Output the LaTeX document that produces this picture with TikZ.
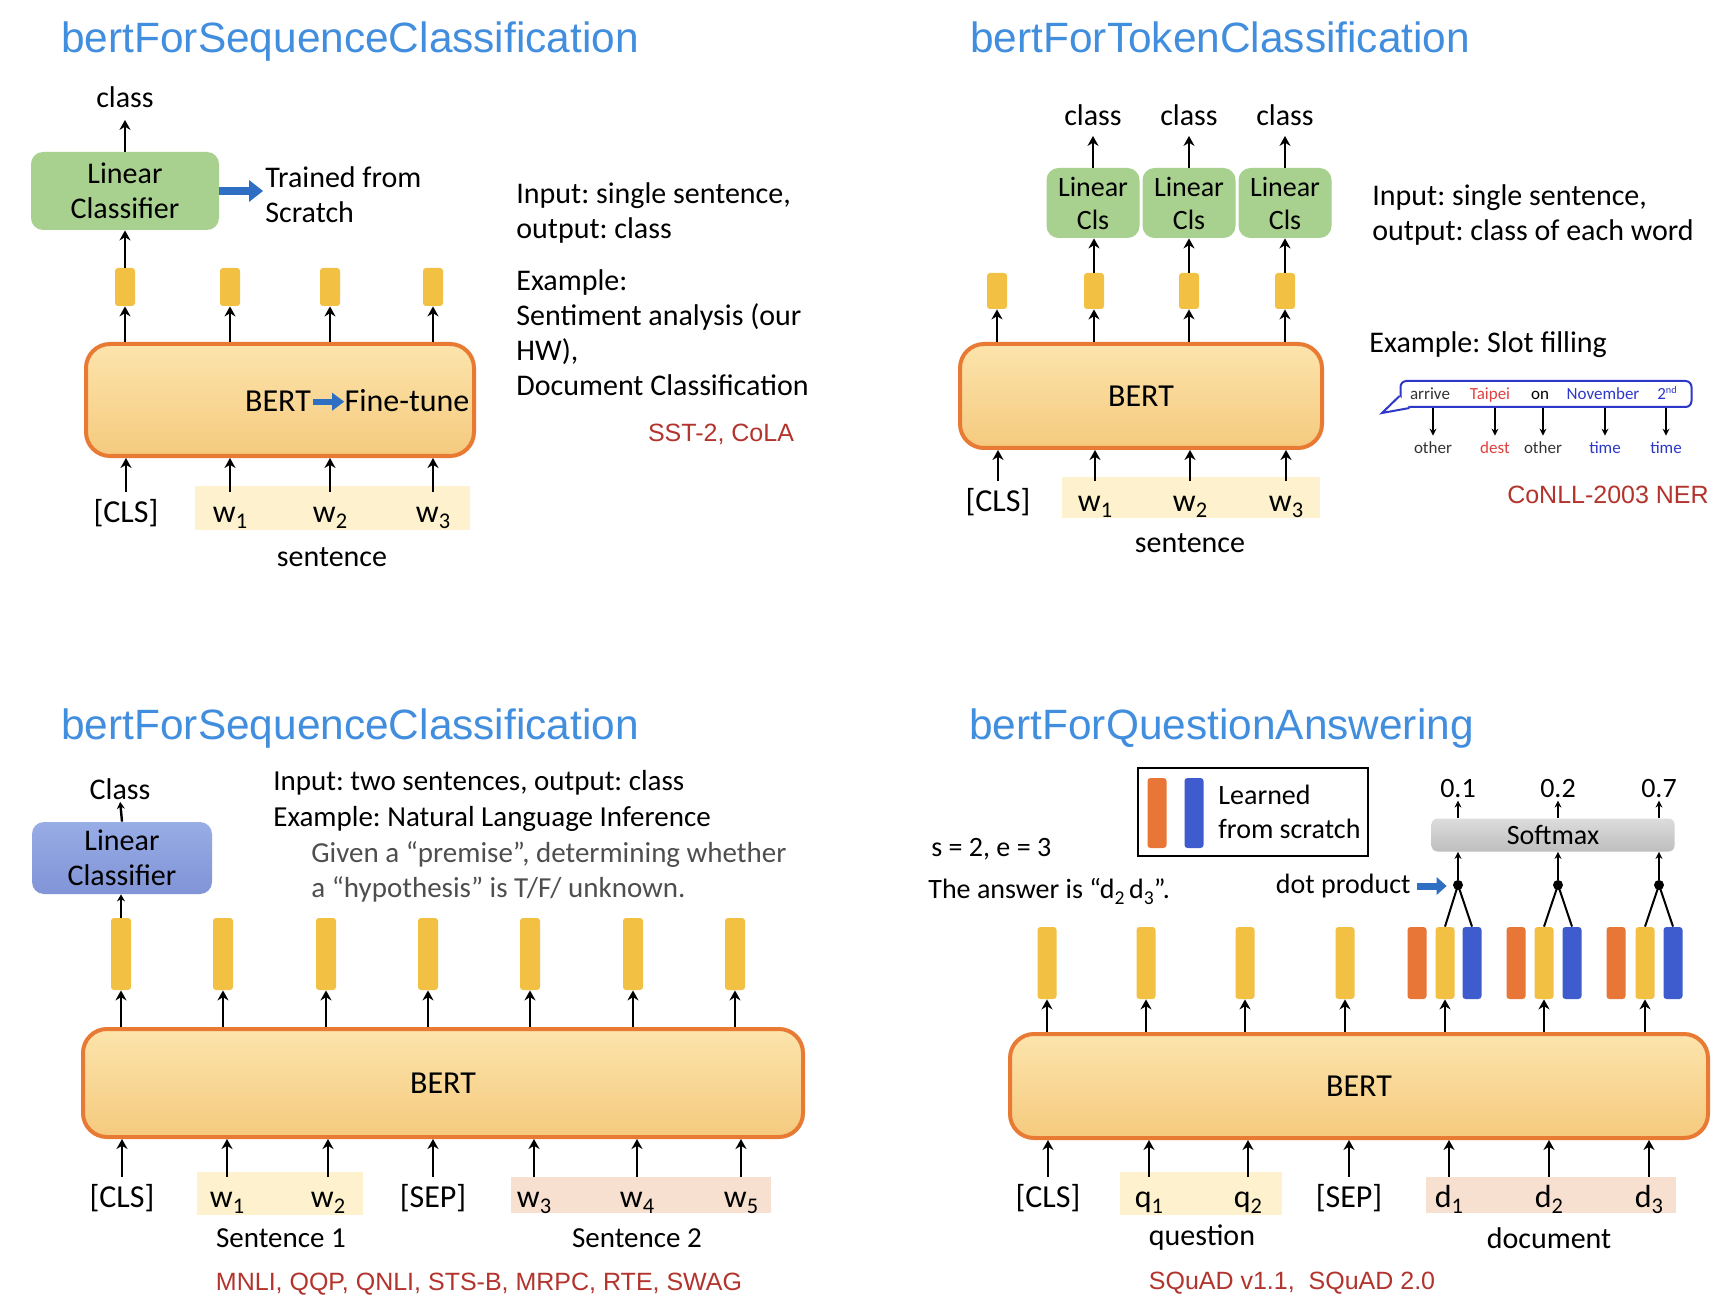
\documentclass[tikz,border=0pt]{standalone}
\usepackage{fontspec}
\usepackage{graphicx}
\setmainfont{Carlito}
\newfontfamily\arialfont{Liberation Sans}
\usetikzlibrary{arrows.meta,positioning,calc}
\frenchspacing

\definecolor{titleblue}{RGB}{66,142,222}
\definecolor{dsred}{RGB}{178,52,45}
\definecolor{vecyellow}{RGB}{242,192,66}
\definecolor{vecorange}{RGB}{232,118,55}
\definecolor{vecblue}{RGB}{62,92,205}
\definecolor{berttop}{RGB}{252,228,172}
\definecolor{bertbot}{RGB}{245,202,126}
\definecolor{bertedge}{RGB}{232,122,52}
\definecolor{clsgreen}{RGB}{168,208,142}
\definecolor{clsbluelt}{RGB}{152,172,230}
\definecolor{clsblue}{RGB}{128,148,215}
\definecolor{hlyellow}{RGB}{253,242,205}
\definecolor{hlpink}{RGB}{247,224,208}
\definecolor{arrowblue}{RGB}{46,110,195}
\definecolor{slotblue}{RGB}{45,55,200}
\definecolor{slotred}{RGB}{225,65,65}
\definecolor{greytext}{RGB}{78,78,78}
\definecolor{softtop}{RGB}{220,220,220}
\definecolor{softbot}{RGB}{190,190,190}

\newcommand\sbs[1]{\raisebox{-0.45ex}{\scalebox{0.7}{#1}}}
\newcommand\sps[1]{\raisebox{0.75ex}{\scalebox{0.6}{#1}}}

\tikzset{
  ttl/.style={anchor=base west, inner sep=0pt, text=titleblue, font=\arialfont\fontsize{21.2}{25}\selectfont},
  txt/.style={anchor=west, inner sep=0pt, align=left, font=\fontsize{15}{17.5}\selectfont},
  lab/.style={inner sep=0pt, font=\fontsize{15}{17.5}\selectfont},
  tok/.style={anchor=base, inner sep=0pt, text height=15pt, text depth=3pt, font=\fontsize{16}{19}\selectfont},
  ds/.style={inner sep=0pt, text=dsred, font=\arialfont\fontsize{12.5}{15}\selectfont},
  vec/.style={rectangle, rounded corners=1.5pt, inner sep=0pt, minimum width=10pt, fill=vecyellow},
  bertbox/.style={rectangle, rounded corners=12pt, draw=bertedge, line width=2pt,
    top color=berttop, bottom color=bertbot, inner sep=0pt, font=\fontsize{16}{19}\selectfont},
  linbox/.style={rectangle, rounded corners=6pt, inner sep=0pt, align=center, font=\fontsize{15}{17.5}\selectfont},
  up/.style={-{Stealth[length=5pt,width=5.5pt]}, line width=1.2pt},
  thinup/.style={-{Stealth[length=3.5pt,width=3.5pt]}, line width=0.75pt},
  fat/.style={draw=arrowblue, line width=4pt, -{Triangle[length=7pt,width=11pt,line width=0pt]}},
}

\begin{document}
\begin{tikzpicture}[x=0.5pt, y=-0.5pt]
    \fill[white] (0,0) rectangle (1731,1305);
    \useasboundingbox (0,0) rectangle (1731,1305);

    % sequence classification, single sentence
    \begin{scope}
        \node[ttl] (ttlA) at (61,53) {bertForSequenceClassification};
        \node[linbox, fill=clsgreen, minimum width=94pt, minimum height=39pt] (linA) at (125,191) {Linear\\Classifier};
        \node[lab] (clsA) at (125,97) {class};
        \draw[up, shorten >=6pt] (linA.north) -- (clsA.south);
        \node[txt] (trainA) at (265,195) {Trained from\\Scratch};
        \draw[fat, shorten >=1pt] (linA.east) -- (linA.east -| trainA.west);
        \foreach \x [count=\i] in {125,230,330,433}
            \node[vec, minimum height=19pt] (vA\i) at (\x,287) {};
        \draw[up] (vA1.north) -- (linA.south);
        \node[bertbox, minimum width=194pt, minimum height=56pt] (bertA) at (280,400) {};
        \foreach \i in {1,...,4}
            \draw[up] (vA\i |- bertA.north) -- (vA\i.south);
        \node[font=\fontsize{16}{19}\selectfont, inner sep=0pt, anchor=base] (bertTxtA) at (278,412) {BERT};
        \node[font=\fontsize{16}{19}\selectfont, inner sep=0pt, anchor=base] (tuneA) at (407,412) {Fine-tune};
        \draw[fat, line width=3pt, -{Triangle[length=6pt,width=9pt,line width=0pt]}, shorten <=1pt]
            (bertTxtA.east) -- (bertTxtA.east -| tuneA.west);
        % input tokens
        \fill[hlyellow] (195,486) rectangle (470,530);
        \node[tok] (tA0) at (126,522) {[CLS]};
        \foreach \x [count=\i] in {230,330,433}
            \node[tok] (tA\i) at (\x,522) {w\sbs{\i}};
        \foreach \i in {0,...,3}
            \draw[up] (tA\i.north) -- (tA\i.north |- bertA.south);
        \node[lab] (sentA) at (332,557) {sentence};
        % description
        \node[txt] (inA) at (516,213) {Input: single sentence,\\output: class};
        \node[txt] (exA) at (516,333) {Example:\\Sentiment analysis (our\\HW),\\Document Classification};
        \node[ds] (dsA) at (721,434) {SST-2, CoLA};
    \end{scope}

    % token classification
    \begin{scope}
        \node[ttl] (ttlB) at (970,53) {bertForTokenClassification};
        \foreach \x [count=\i] in {1093,1189,1285} {
            \node[linbox, fill=clsgreen, minimum width=46.5pt, minimum height=35pt,
                font=\fontsize{14}{16.5}\selectfont] (linB\i) at (\x,203) {Linear\\Cls};
            \node[lab] (clsB\i) at (\x,115) {class};
            \draw[up, shorten >=5pt] (linB\i.north) -- (clsB\i.south);
        }
        \foreach \x [count=\i] in {997,1094,1189,1285}
            \node[vec, minimum height=18pt] (vB\i) at (\x,291) {};
        \foreach \i/\j in {1/2,2/3,3/4}
            \draw[up] (vB\j.north) -- (vB\j.north |- linB\i.south);
        \node[bertbox, minimum width=181pt, minimum height=52pt] (bertB) at (1141,396) {BERT};
        \foreach \i in {1,...,4}
            \draw[up] (vB\i |- bertB.north) -- (vB\i.south);
        % input tokens
        \fill[hlyellow] (1062,477) rectangle (1320,518);
        \node[tok] (tB0) at (998,511) {[CLS]};
        \foreach \x [count=\i] in {1095,1190,1286}
            \node[tok] (tB\i) at (\x,511) {w\sbs{\i}};
        \foreach \i in {0,...,3}
            \draw[up] (tB\i.north) -- (tB\i.north |- bertB.south);
        \node[lab] (sentB) at (1190,543) {sentence};
        % description
        \node[txt] (inB) at (1372,215) {Input: single sentence,\\output: class of each word};
        \node[txt] (exB) at (1369,345) {Example: Slot filling};
        % slot filling bubble
        \node[draw=slotblue, line width=1pt, rounded corners=3pt, fill=white, inner sep=0pt,
            minimum width=145.5pt, minimum height=13pt] (bubble) at (1546,394) {};
        \draw[slotblue, line width=1pt, fill=white]
            ($(bubble.south west)+(0,-12)$) -- (1382,413) -- ($(bubble.south west)+(10,0)$);
        \foreach \x/\w/\c [count=\i] in {1430/arrive/black!80,1490/Taipei/slotred,1540/on/black,1603/November/slotblue,1667/2\sps{nd}/slotblue}
            \node[inner sep=0pt, anchor=base, text=\c, font=\fontsize{8.5}{10}\selectfont] (sw\i) at (\x,400) {\w};
        \foreach \x/\w/\c [count=\i] in {1433/other/black!80,1495/dest/slotred,1543/other/black!80,1605/time/slotblue,1666/time/slotblue}
            \node[inner sep=0pt, text=\c, font=\fontsize{8.5}{10}\selectfont] (sl\i) at (\x,448) {\w};
        \foreach \i in {1,...,5}
            \draw[thinup, shorten >=3pt] (sl\i.north |- bubble.south) -- (sl\i.north);
        \node[ds] (dsB) at (1608,495) {CoNLL-2003 NER};
    \end{scope}

    % sequence classification, two sentences
    \begin{scope}
        \node[ttl] (ttlC) at (61,739) {bertForSequenceClassification};
        \node[lab] (clsC) at (120,789) {Class};
        \node[linbox, top color=clsbluelt, bottom color=clsblue, minimum width=90pt, minimum height=36pt] (linC) at (122,858) {Linear\\Classifier};
        \draw[up, -{Stealth[length=3.5pt,width=4pt]}, shorten >=1pt] (linC.north) -- (clsC.south);
        \foreach \x [count=\i] in {121,223,326,428,530,633,735}
            \node[vec, minimum height=36pt] (vC\i) at (\x,954) {};
        \draw[up, -{Stealth[length=3.5pt,width=4pt]}] (vC1.north) -- (vC1.north |- linC.south);
        \node[bertbox, minimum width=360pt, minimum height=54pt] (bertC) at (443,1083) {BERT};
        \foreach \i in {1,...,7}
            \draw[up] (vC\i |- bertC.north) -- (vC\i.south);
        % input tokens
        \fill[hlyellow] (197,1172) rectangle (363,1215);
        \fill[hlpink] (511,1177) rectangle (771,1213);
        \node[tok] (tC1) at (122,1207) {[CLS]};
        \node[tok] (tC2) at (227,1207) {w\sbs{1}};
        \node[tok] (tC3) at (328,1207) {w\sbs{2}};
        \node[tok] (tC4) at (433,1207) {[SEP]};
        \node[tok] (tC5) at (534,1207) {w\sbs{3}};
        \node[tok] (tC6) at (637,1207) {w\sbs{4}};
        \node[tok] (tC7) at (741,1207) {w\sbs{5}};
        \foreach \i in {1,...,7}
            \draw[up] (tC\i.north) -- (tC\i.north |- bertC.south);
        \node[lab, font=\fontsize{14.5}{17.5}\selectfont] (sent1C) at (281,1238) {Sentence 1};
        \node[lab, font=\fontsize{14.5}{17.5}\selectfont] (sent2C) at (637,1238) {Sentence 2};
        \node[ds] (dsC) at (479,1284) {MNLI, QQP, QNLI, STS-B, MRPC, RTE, SWAG};
        % description
        \node[txt, font=\fontsize{14.5}{17.6}\selectfont] (inC) at (273,801) {Input: two sentences, output: class\\Example: Natural Language Inference};
        \node[txt, text=greytext, font=\fontsize{14.5}{17.8}\selectfont] (givC) at (311,872) {Given a “premise”, determining whether\\a “hypothesis” is T/F/ unknown.};
    \end{scope}

    % question answering
    \begin{scope}
        \node[ttl] (ttlD) at (969,739) {bertForQuestionAnswering};
        % legend
        \node[draw, line width=1.2pt, inner sep=0pt, minimum width=115pt, minimum height=44pt] (legend) at (1253,812) {};
        \node[vec, fill=vecorange, minimum width=9.5pt, minimum height=35pt] (legO) at (1157,813) {};
        \node[vec, fill=vecblue, minimum width=9.5pt, minimum height=35pt] (legB) at (1194,813) {};
        \node[txt, font=\fontsize{14}{17}\selectfont] (legT) at (1218,812) {Learned\\from scratch};
        \node[txt, font=\fontsize{14}{17}\selectfont] (seD) at (931,849) {s = 2, e = 3};
        \node[txt, font=\fontsize{14}{17}\selectfont] (ansD) at (928,891) {The answer is “d\sbs{2}\,d\sbs{3}”.};
        % softmax and dot products
        \node[rectangle, rounded corners=3pt, top color=softtop, bottom color=softbot, inner sep=0pt,
            minimum width=121.5pt, minimum height=16.5pt, font=\fontsize{14}{17}\selectfont] (soft) at (1553,835) {Softmax};
        \foreach \x/\p [count=\i] in {1458/0.1,1558/0.2,1659/0.7}
            \node[lab, font=\fontsize{14}{17}\selectfont] (pD\i) at (\x,789) {\p};
        \foreach \i in {1,2,3}
            \draw[thinup, shorten >=1pt] (pD\i.south |- soft.north) -- (pD\i.south);
        \foreach \x [count=\i] in {1458,1558,1659}
            \node[circle, fill=black, inner sep=0pt, minimum size=5pt] (dot\i) at (\x,885) {};
        \foreach \i in {1,2,3}
            \draw[thinup] (dot\i) -- (dot\i |- soft.south);
        \node[lab, font=\fontsize{14}{17}\selectfont, anchor=east] (dp) at (1411,886) {dot product};
        \draw[fat, line width=3.5pt, -{Triangle[length=5pt,width=9pt,line width=0pt]}, shorten <=3pt, shorten >=3pt]
            (dp.east) -- (dp.east -| dot1.west);
        % output vectors
        \foreach \x [count=\i] in {1047,1146,1245,1345,1445,1544,1645}
            \node[vec, minimum width=9.5pt, minimum height=36pt] (vD\i) at (\x,963) {};
        \foreach \x [count=\i] in {1417,1516,1616}
            \node[vec, fill=vecorange, minimum width=9.5pt, minimum height=36pt] (oD\i) at (\x,963) {};
        \foreach \x [count=\i] in {1472,1572,1673}
            \node[vec, fill=vecblue, minimum width=9.5pt, minimum height=36pt] (bD\i) at (\x,963) {};
        \foreach \i [evaluate=\i as \j using int(\i+4)] in {1,2,3}
            \draw[line width=1pt] (vD\j.north) -- (dot\i.center) -- (bD\i.north);
        \node[bertbox, minimum width=349pt, minimum height=52pt] (bertD) at (1359,1086) {BERT};
        \foreach \i in {1,...,7}
            \draw[up] (vD\i |- bertD.north) -- (vD\i.south);
        % input tokens
        \fill[hlyellow] (1120,1172) rectangle (1282,1215);
        \fill[hlpink] (1426,1177) rectangle (1676,1213);
        \node[tok] (tD1) at (1048,1207) {[CLS]};
        \node[tok] (tD2) at (1149,1207) {q\sbs{1}};
        \node[tok] (tD3) at (1248,1207) {q\sbs{2}};
        \node[tok] (tD4) at (1349,1207) {[SEP]};
        \node[tok] (tD5) at (1449,1207) {d\sbs{1}};
        \node[tok] (tD6) at (1549,1207) {d\sbs{2}};
        \node[tok] (tD7) at (1649,1207) {d\sbs{3}};
        \foreach \i in {1,...,7}
            \draw[up] (tD\i.north) -- (tD\i.north |- bertD.south);
        \node[lab] (quesD) at (1202,1238) {question};
        \node[lab] (docD) at (1549,1238) {document};
        \node[ds] (dsD) at (1292,1283) {SQuAD v1.1,~ SQuAD 2.0};
    \end{scope}
\end{tikzpicture}
\end{document}
